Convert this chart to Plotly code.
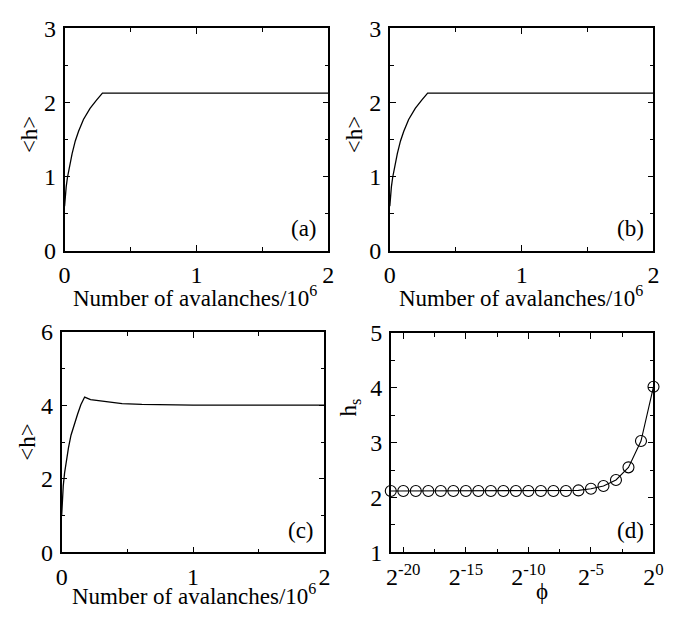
import plotly.graph_objects as go

# ---- data -------------------------------------------------------------
# panels (a) and (b): mean height vs number of avalanches (in units of 10^6)
ab_avalanches = [0, 0.003, 0.007, 0.012, 0.022, 0.037, 0.057, 0.081, 0.106, 0.143, 0.193, 0.242, 0.287, 1.0, 2.0]
ab_height = [0.6, 0.70, 0.77, 0.86, 0.99, 1.14, 1.31, 1.48, 1.61, 1.77, 1.92, 2.03, 2.125, 2.125, 2.125]

# panel (c)
c_avalanches = [0, 0.002, 0.005, 0.012, 0.022, 0.034, 0.052, 0.071, 0.096, 0.121, 0.146, 0.175,
                0.22, 0.336, 0.46, 0.61, 0.78, 1.0, 2.0]
c_height = [1.0, 1.2, 1.46, 1.81, 2.16, 2.50, 2.85, 3.19, 3.50, 3.76, 4.02, 4.23,
            4.16, 4.10, 4.05, 4.03, 4.02, 4.01, 4.01]

# panel (d): saturation height vs phi (phi = 2^exponent)
phi_exponent = [-21, -20, -19, -18, -17, -16, -15, -14, -13, -12, -11,
                -10, -9, -8, -7, -6, -5, -4, -3, -2, -1, 0]
h_s = [2.12, 2.12, 2.12, 2.12, 2.12, 2.12, 2.12, 2.12, 2.12, 2.12, 2.12,
       2.12, 2.12, 2.12, 2.12, 2.13, 2.16, 2.21, 2.32, 2.55, 3.03, 4.02]

phi_ticks = [-20, -15, -10, -5, 0]
phi_ticktext = ["2<sup>%d</sup>" % e for e in phi_ticks]

# ---- layout helpers -----------------------------------------------------
W, H = 684, 620
FONT = "Liberation Serif"


def px(x):
    return x / W


def py(y):
    return 1 - y / H


def axis(domain, rng, dtick, minor, anchor, **kw):
    d = dict(
        domain=domain, range=rng, dtick=dtick, tick0=0,
        showline=True, linecolor="black", linewidth=1.5, mirror="allticks",
        ticks="inside", ticklen=6, tickwidth=1.2, tickcolor="black",
        minor=dict(ticks="inside", ticklen=4, tickwidth=1.2, tickcolor="black", dtick=minor, tick0=0),
        showgrid=False, zeroline=False, anchor=anchor,
        tickfont=dict(family=FONT, size=24, color="black"),
        ticklabelstandoff=2,
    )
    d.update(kw)
    return d


# plot-area pixel boxes: (left, right, top, bottom)
boxes = {
    1: (60, 330, 16, 248),
    2: (393, 663, 16, 248),
    3: (57, 326, 333, 563),
    4: (394, 663, 334, 563),
}

fig = go.Figure()
line = dict(color="black", width=1.3)
fig.add_trace(go.Scatter(x=ab_avalanches, y=ab_height, mode="lines", line=line, xaxis="x", yaxis="y"))
fig.add_trace(go.Scatter(x=ab_avalanches, y=ab_height, mode="lines", line=line, xaxis="x2", yaxis="y2"))
fig.add_trace(go.Scatter(x=c_avalanches, y=c_height, mode="lines", line=line, xaxis="x3", yaxis="y3"))
fig.add_trace(go.Scatter(x=phi_exponent, y=h_s, mode="lines+markers", line=dict(color="black", width=1.1),
                         marker=dict(symbol="circle-open", size=11, color="black", line=dict(width=1.1)),
                         cliponaxis=False, xaxis="x4", yaxis="y4"))

layout = dict(
    width=W, height=H, margin=dict(l=0, r=0, t=0, b=0),
    paper_bgcolor="white", plot_bgcolor="white", showlegend=False,
    font=dict(family=FONT, color="black"),
)
ranges = {
    1: ([0, 2], 1, 0.5, [0, 3], 1, 0.5),
    2: ([0, 2], 1, 0.5, [0, 3], 1, 0.5),
    3: ([0, 2], 1, 0.5, [0, 6], 2, 1),
    4: ([-21, 0], 5, 2.5, [1, 5], 1, 0.5),
}
for i, (l, r, t, b) in boxes.items():
    xr, xd, xm, yr, yd, ym = ranges[i]
    sx = "" if i == 1 else str(i)
    xkw = {}
    if i == 4:
        xkw = dict(tickmode="array", tickvals=phi_ticks, ticktext=phi_ticktext)
    layout["xaxis" + sx] = axis([px(l), px(r)], xr, xd, xm, "y" + sx, **xkw)
    layout["yaxis" + sx] = axis([py(b), py(t)], yr, yd, ym, "x" + sx)

annotations = []
title_font = dict(family=FONT, size=23, color="black")


def note(text, cx, cy, font, angle=0):
    annotations.append(dict(text=text, x=px(cx), y=py(cy), xref="paper", yref="paper",
                            xanchor="center", yanchor="middle", textangle=angle,
                            showarrow=False, font=font))


# x-axis titles
for cx, cy in [(194, 296), (527, 296), (192, 607)]:
    note("Number of avalanches/10<sup>6</sup>", cx, cy, title_font)
note("\u03d5", 549, 604, title_font)
# y-axis titles
for cx, cy in [(24, 127), (357, 127), (22, 448)]:
    note("&lt;h&gt;", cx, cy, title_font, -90)
note("h<sub>s</sub>", 352, 412, title_font, -90)
# panel labels
for lab, cx, cy in [("(a)", 305, 225), ("(b)", 639, 225), ("(c)", 302, 540), ("(d)", 639, 540)]:
    note(lab, cx, cy, title_font)
layout["annotations"] = annotations

fig.update_layout(**layout)
fig.write_html("out.html")
